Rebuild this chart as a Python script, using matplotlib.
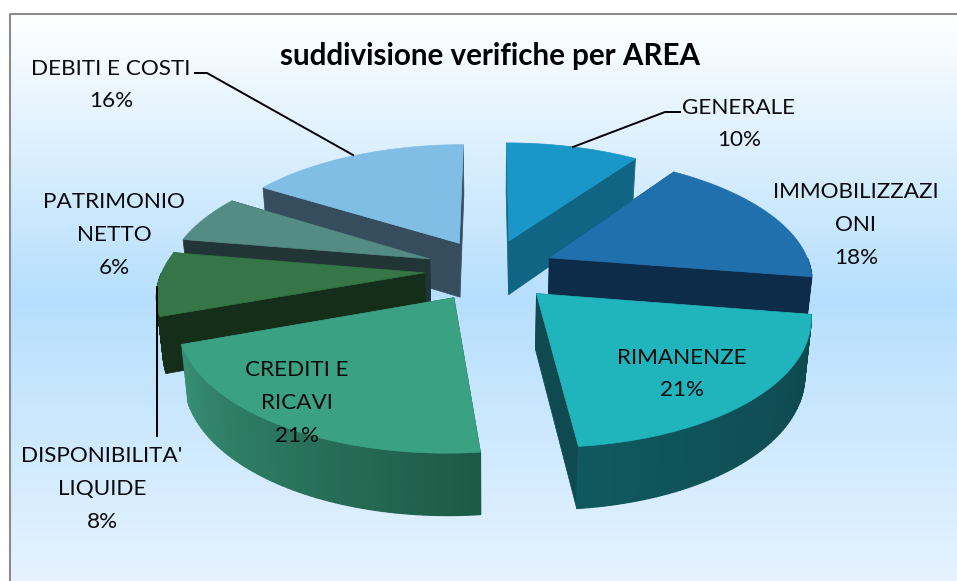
import numpy as np
import matplotlib
matplotlib.use('Agg')
import matplotlib.pyplot as plt
from matplotlib.colors import LinearSegmentedColormap, to_rgb
from matplotlib.patches import Polygon

plt.rcParams['font.family'] = ['Lato', 'DejaVu Sans']

AREAS = ['GENERALE', 'IMMOBILIZZAZI\nONI', 'RIMANENZE', 'CREDITI E\nRICAVI',
         "DISPONIBILITA'\nLIQUIDE", 'PATRIMONIO\nNETTO', 'DEBITI E COSTI']
VALUES = [9.7, 17.8, 20.85, 21.15, 8.2, 6.2, 16.1]

TOP_COLORS = ['#1b96c8', '#2070ae', '#20b4bd', '#3aa283', '#357547', '#548b85', '#80bee6']
WALL_COLORS = ['#0f6583', '#0c2c4a', '#0e4a50', '#1d5a46', '#152e1a', '#223536', '#364d5e']
RIM_START = ['#0f6583', '#0c2c4a', '#0e474c', '#1d5a46', '#152e1a', '#2f5450', '#5a8fb0']
RIM_END = ['#0f6583', '#0c2c4a', '#10585f', '#378f73', '#152e1a', '#2f5450', '#5a8fb0']

# back to front
DRAW_ORDER = [0, 6, 1, 5, 4, 2, 3]

# label centres in pixels
LABEL_POS = [(739, 124), (856, 225), (682, 374), (297, 403), (102, 489), (114, 235), (111, 85)]
LEADERS = [([680, 665, 573], [112, 112, 147]),
           ([157, 157], [287, 436]),
           ([195, 207, 353], [73, 73, 155])]

# projection of the pie plane into the picture
CX, CY = 490, 270
R_X, R_Y = 262, 121.6
PERSP = 0.1556
EXPL_U, EXPL_V = 0.25, 0.26
DEPTH = 55
TAPER = 0.98  # verticals lean inwards going down


def project(u, v):
    s = 1 / (1 + PERSP * v)
    return CX + R_X * u * s, CY - R_Y * v * s, s


def lower(x):
    return CX + (x - CX) * TAPER


def mix(c0, c1, t):
    return tuple((1 - t) * a + t * b for a, b in zip(to_rgb(c0), to_rgb(c1)))


def draw_slice(ax, start, end, i):
    mid = (start + end) / 2
    off_u, off_v = EXPL_U * np.sin(mid), EXPL_V * np.cos(mid)
    th = np.linspace(start, end, 60)
    x, y, s = project(off_u + np.sin(th), off_v + np.cos(th))
    ax0, ay0, as0 = project(off_u, off_v)
    h = DEPTH * s ** 0.6
    ah = DEPTH * as0 ** 0.6
    xb = lower(x)

    # the two straight walls
    for k in (0, -1):
        ax.add_patch(Polygon([(ax0, ay0), (x[k], y[k]), (xb[k], y[k] + h[k]), (lower(ax0), ay0 + ah)],
                             fc=WALL_COLORS[i], ec=WALL_COLORS[i], lw=0.5))
    # outer rim, only the part facing us, shaded piece by piece
    for k in range(len(th) - 1):
        if np.cos(th[k]) > 0 or np.cos(th[k + 1]) > 0:
            continue
        col = mix(RIM_START[i], RIM_END[i], k / (len(th) - 2))
        ax.add_patch(Polygon([(x[k], y[k]), (x[k + 1], y[k + 1]),
                              (xb[k + 1], y[k + 1] + h[k + 1]), (xb[k], y[k] + h[k])],
                             fc=col, ec=col, lw=0.9))
    pts = [(ax0, ay0)] + list(zip(x, y))
    ax.add_patch(Polygon(pts, fc=TOP_COLORS[i], ec=TOP_COLORS[i], lw=0.5))


fig = plt.figure(figsize=(9.57, 5.81), dpi=100)
ax = fig.add_axes([0, 0, 1, 1])
ax.set_xlim(0, 957)
ax.set_ylim(581, 0)
ax.axis('off')

bg = LinearSegmentedColormap.from_list('bg', [(0, '#ffffff'), (0.5, '#b6dffd'), (1, '#e6f3ff')])
ax.imshow(np.linspace(0, 1, 256).reshape(-1, 1), cmap=bg, aspect='auto',
          extent=(10, 957, 581, 14), zorder=0)
ax.plot([10, 10, 957], [581, 14, 14], color='#8c8c8c', lw=1.5, zorder=1)
ax.set_xlim(0, 957)
ax.set_ylim(581, 0)

edges = np.radians(np.concatenate([[0], np.cumsum(VALUES)]) * 3.6)
for i in DRAW_ORDER:
    draw_slice(ax, edges[i], edges[i + 1], i)

for xs, ys in LEADERS:
    ax.plot(xs, ys, color='black', lw=1.4, zorder=5)

for name, val, (lx, ly) in zip(AREAS, VALUES, LABEL_POS):
    ax.text(lx, ly, f'{name}\n{round(val)}%', ha='center', va='center', fontsize=16.2,
            linespacing=1.8, color='#0a0a0a', zorder=6)

ax.text(490, 56, 'suddivisione verifiche per AREA', ha='center', va='center',
        fontsize=21.3, fontweight='bold', color='black', zorder=6)

fig.savefig('out.png', dpi=100)
